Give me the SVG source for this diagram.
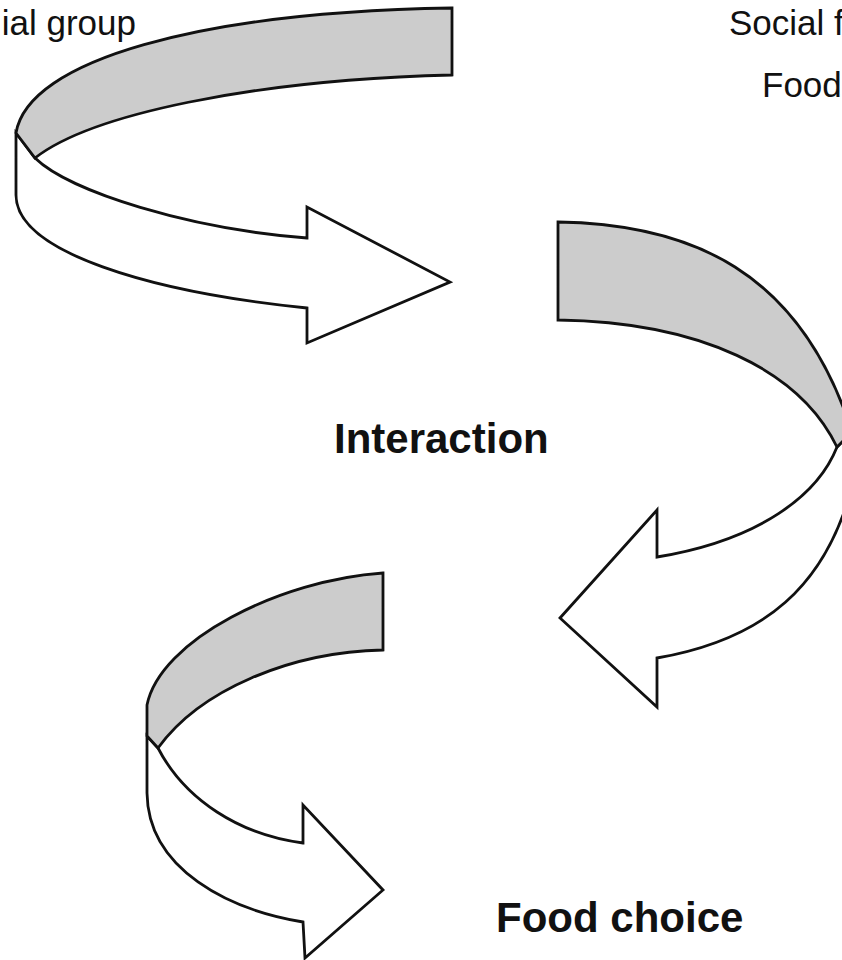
<svg xmlns="http://www.w3.org/2000/svg" width="842" height="960" viewBox="0 0 842 960">
  <style>
    .band { fill: #cccccc; stroke: #111111; stroke-width: 2.8; stroke-linejoin: miter; }
    .face { fill: #ffffff; stroke: #111111; stroke-width: 2.8; stroke-linejoin: miter; }
    .lbl { font-family: "Liberation Sans", Arial, Helvetica, sans-serif; font-size: 35px; fill: #111111; }
    .key { font-family: "Liberation Sans", Arial, Helvetica, sans-serif; font-size: 42px; font-weight: bold; fill: #111111; }
  </style>
  <rect width="842" height="960" fill="#ffffff"/>

  <!-- Edge labels -->
  <g id="labels">
    <text class="lbl" x="136" y="35" text-anchor="end">ial group</text>
    <text class="lbl" x="729" y="35">Social f</text>
    <text class="lbl" x="762" y="97">Food</text>
  </g>

  <!-- Curved ribbon arrows -->
  <g id="connectors">
    <g id="arrow-top">
      <path class="face" d="M35,158 C70,192 190,229 307,238 L307,207 L450,282 L307,343 L307,308 C150,292 16,252 16,195 L16,133 Z"/>
      <path class="band" d="M452,8 C200,12 28,60 16,133 L35,158 C90,115 250,80 452,75 Z"/>
    </g>
    <g id="arrow-right">
      <path class="face" d="M837,447 C818,495 760,540 657,557 L657,510 L560,618 L657,707 L657,658 C760,640 830,590 856,470 L852,432 Z"/>
      <path class="band" d="M558,222 C690,224 800,270 852,432 L837,447 C800,370 700,322 558,320 Z"/>
    </g>
    <g id="arrow-bottom">
      <path class="face" d="M158,748 C185,800 240,835 303,843 L303,805 L383,890 L305,958 L303,922 C230,910 148,870 147,793 L147,736 Z"/>
      <path class="band" d="M383,573 C280,580 160,640 147,705 L147,736 L158,748 C200,690 290,652 383,650 Z"/>
    </g>
  </g>

  <!-- Central labels -->
  <g id="node-interaction">
    <text class="key" x="334" y="453">Interaction</text>
  </g>
  <g id="node-food-choice">
    <text class="key" x="496" y="932">Food choice</text>
  </g>
</svg>
